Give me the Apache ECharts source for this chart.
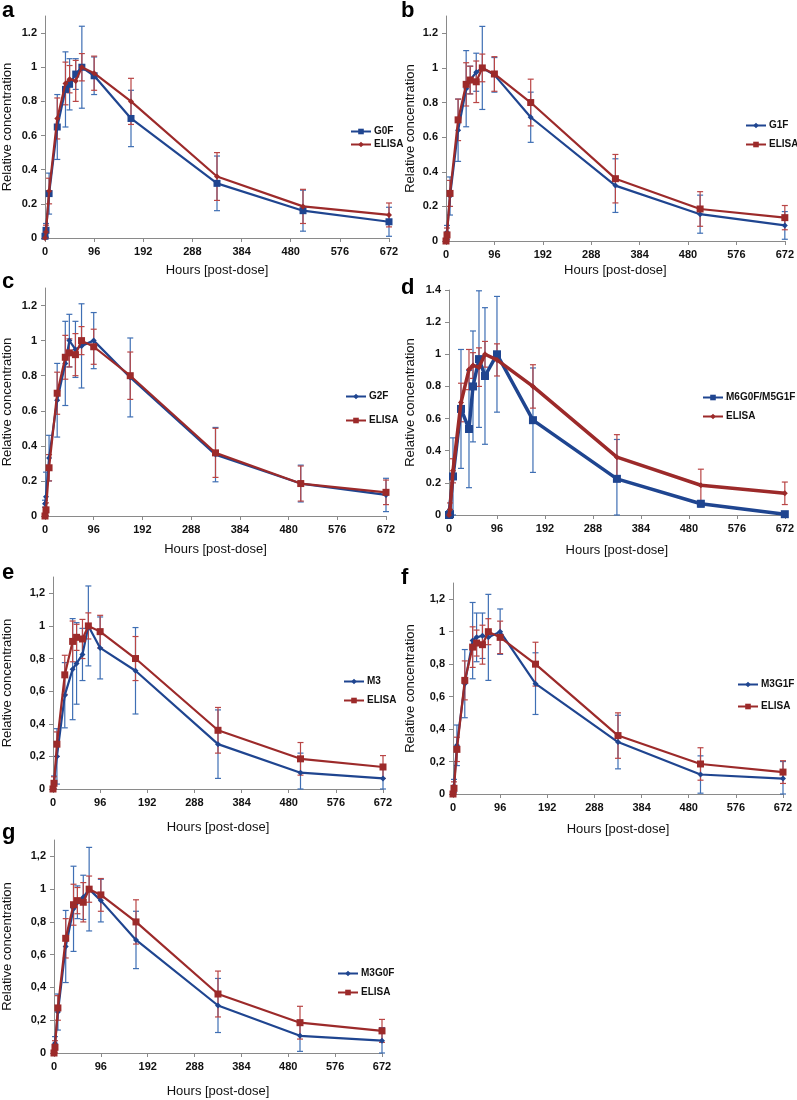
<!DOCTYPE html>
<html>
<head>
<meta charset="utf-8">
<script src="https://cdn.jsdelivr.net/npm/echarts@6/dist/echarts.min.js"></script>
<style>
html,body{margin:0;padding:0;background:#fff;}
#c{width:797px;height:1100px;}
</style>
</head>
<body>
<div id="c"></div>
<script>
// ---- data ----
const hours = [0, 2, 8, 24, 40, 48, 60, 72, 96, 168, 336, 504, 672];
const xTicks = [0, 96, 192, 288, 384, 480, 576, 672];

const elisa    = [0, 0.035, 0.275, 0.70, 0.905, 0.93, 0.92, 1.0, 0.965, 0.80, 0.36, 0.185, 0.135];
const elisaErr = [0.01, 0.04, 0.075, 0.12, 0.125, 0.08, 0.12, 0.08, 0.10, 0.135, 0.14, 0.10, 0.07];

const g0f    = [0.01, 0.045, 0.26, 0.65, 0.87, 0.90, 0.96, 1.0, 0.95, 0.70, 0.32, 0.16, 0.095];
const g0fErr = [0.01, 0.04, 0.12, 0.19, 0.22, 0.15, 0.09, 0.24, 0.11, 0.165, 0.16, 0.12, 0.085];

const g1f    = [0.0, 0.05, 0.26, 0.64, 0.88, 0.93, 0.975, 1.0, 0.96, 0.715, 0.32, 0.155, 0.09];
const g1fErr = [0.01, 0.04, 0.11, 0.18, 0.22, 0.08, 0.11, 0.24, 0.10, 0.145, 0.155, 0.11, 0.08];

const g2f    = [0.07, 0.11, 0.33, 0.66, 0.87, 1.0, 0.95, 0.97, 1.0, 0.79, 0.35, 0.185, 0.12];
const g2fErr = [0.02, 0.14, 0.13, 0.21, 0.24, 0.15, 0.16, 0.24, 0.16, 0.225, 0.155, 0.105, 0.095];

const m6g0f    = [0.0, 0.005, 0.24, 0.66, 0.535, 0.80, 0.97, 0.865, 1.0, 0.59, 0.225, 0.07, 0.005];
const m6g0fErr = [0.005, 0.03, 0.24, 0.37, 0.365, 0.345, 0.425, 0.425, 0.36, 0.325, 0.245, 0.02, 0.01];

const m3    = [0.0, 0.04, 0.20, 0.575, 0.735, 0.77, 0.825, 1.0, 0.865, 0.725, 0.275, 0.10, 0.065];
const m3Err = [0.01, 0.04, 0.17, 0.20, 0.31, 0.25, 0.16, 0.245, 0.19, 0.265, 0.21, 0.12, 0.065];

const m3g1f    = [0.0, 0.05, 0.30, 0.68, 0.945, 0.965, 0.975, 0.965, 1.0, 0.68, 0.32, 0.12, 0.095];
const m3g1fErr = [0.01, 0.04, 0.125, 0.21, 0.235, 0.15, 0.14, 0.265, 0.14, 0.19, 0.165, 0.115, 0.105];

const m3g0f    = [0.0, 0.06, 0.25, 0.65, 0.88, 0.92, 0.95, 1.0, 0.93, 0.69, 0.29, 0.105, 0.075];
const m3g0fErr = [0.01, 0.04, 0.11, 0.22, 0.26, 0.10, 0.135, 0.255, 0.13, 0.175, 0.165, 0.095, 0.08];

const panelLetters = ['a', 'b', 'c', 'd', 'e', 'f', 'g'];
const glycoNames = ['G0F', 'G1F', 'G2F', 'M6G0F/M5G1F', 'M3', 'M3G1F', 'M3G0F'];
const glycoValues = [g0f, g1f, g2f, m6g0f, m3, m3g1f, m3g0f];
const glycoErrors = [g0fErr, g1fErr, g2fErr, m6g0fErr, m3Err, m3g1fErr, m3g0fErr];

// ---- layout / style ----
const BLUE = '#1f4590', RED = '#9c2a2a', BLUE_ERR = '#3f6fb4', RED_ERR = '#b94545';
const layout = [
  {grid:{left:43, top:16, width:346, height:222}, ymax:1.3, comma:false, blueSym:'rect', redSym:'diamond', xGap:26, yGap:31, leg:{left:350, top:125, gap:0}, letter:[2,18], lw:2.2},
  {grid:{left:446, top:16, width:339, height:225}, ymax:1.3, comma:false, blueSym:'diamond', redSym:'rect', xGap:23, yGap:29, leg:{left:745, top:119, gap:6}, letter:[401,18], lw:2.2},
  {grid:{left:43, top:288, width:343, height:228}, ymax:1.3, comma:false, blueSym:'diamond', redSym:'rect', xGap:27, yGap:31, leg:{left:345, top:390, gap:11}, letter:[2,289], lw:2.2},
  {grid:{left:449, top:290, width:339, height:225}, ymax:1.4, comma:false, blueSym:'rect', redSym:'diamond', xGap:29, yGap:32, leg:{left:702, top:391, gap:6}, letter:[401,295], lw:3.5},
  {grid:{left:52, top:577, width:331, height:212}, ymax:1.3, comma:true, blueSym:'diamond', redSym:'rect', xGap:32, yGap:39, leg:{left:343, top:675, gap:6}, letter:[2,580], lw:2.2},
  {grid:{left:453, top:583, width:330, height:211}, ymax:1.3, comma:true, blueSym:'diamond', redSym:'rect', xGap:29, yGap:36, leg:{left:737, top:678, gap:9}, letter:[401,585], lw:2.2},
  {grid:{left:52, top:840, width:330, height:213}, ymax:1.3, comma:true, blueSym:'diamond', redSym:'rect', xGap:32, yGap:40, leg:{left:337, top:967, gap:6}, letter:[2,840], lw:2.2}
];

function errData(vals, errs) {
  return hours.map((h, i) => [h, Math.max(0, vals[i] - errs[i]), vals[i] + errs[i]]);
}
function lineData(vals) { return hours.map((h, i) => [h, vals[i]]); }

function errRender(params, api) {
  const x = api.value(0), lo = api.value(1), hi = api.value(2);
  const a = api.coord([x, lo]), b = api.coord([x, hi]);
  const w = 3;
  const st = {stroke: api.visual('color'), lineWidth: 1.2};
  return {type:'group', children:[
    {type:'line', shape:{x1:a[0], y1:a[1], x2:b[0], y2:b[1]}, style:st},
    {type:'line', shape:{x1:a[0]-w, y1:a[1], x2:a[0]+w, y2:a[1]}, style:st},
    {type:'line', shape:{x1:b[0]-w, y1:b[1], x2:b[0]+w, y2:b[1]}, style:st}
  ]};
}

const FONT = 'Liberation Sans, Arial, sans-serif';
const grids = [], xAxes = [], yAxes = [], series = [], legends = [], graphics = [];

layout.forEach((L, p) => {
  grids.push(L.grid);
  xAxes.push({
    type:'value', gridIndex:p, min:0, max:672, interval:96,
    name:'Hours [post-dose]', nameLocation:'middle', nameGap:L.xGap,
    nameTextStyle:{fontFamily:FONT, fontSize:13, color:'#111'},
    axisLine:{show:true, onZero:false, lineStyle:{color:'#8a8a8a', width:1}},
    axisTick:{show:true, length:4, lineStyle:{color:'#8a8a8a'}},
    axisLabel:{fontFamily:FONT, fontSize:11, fontWeight:'bold', color:'#111', margin:8,
      formatter: v => xTicks.includes(v) ? String(v) : ''},
    splitLine:{show:false}
  });
  yAxes.push({
    type:'value', gridIndex:p, min:0, max:L.ymax, interval:0.2,
    name:'Relative concentration', nameLocation:'middle', nameGap:L.yGap,
    nameTextStyle:{fontFamily:FONT, fontSize:13, color:'#111'},
    axisLine:{show:true, lineStyle:{color:'#8a8a8a', width:1}},
    axisTick:{show:true, length:4, lineStyle:{color:'#8a8a8a'}},
    axisLabel:{fontFamily:FONT, fontSize:11, fontWeight:'bold', color:'#111', margin:8, showMaxLabel: L.ymax === 1.4,
      formatter: v => { const s = String(Math.round(v*10)/10); return L.comma ? s.replace('.', ',') : s; }},
    splitLine:{show:false}
  });
  const bName = glycoNames[p];
  const rName = 'ELISA#' + p;
  series.push({
    type:'custom', xAxisIndex:p, yAxisIndex:p, name:bName + '#err', renderItem:errRender,
    itemStyle:{color:BLUE_ERR}, data:errData(glycoValues[p], glycoErrors[p]), z:1, silent:true
  });
  series.push({
    type:'custom', xAxisIndex:p, yAxisIndex:p, name:rName + '#err', renderItem:errRender,
    itemStyle:{color:RED_ERR}, data:errData(elisa, elisaErr), z:1, silent:true
  });
  series.push({
    type:'line', xAxisIndex:p, yAxisIndex:p, name:bName, data:lineData(glycoValues[p]),
    symbol:L.blueSym, symbolSize: L.blueSym === 'rect' ? (p === 3 ? 8 : 7) : 6,
    lineStyle:{color:BLUE, width:L.lw}, itemStyle:{color:BLUE}, z:3
  });
  series.push({
    type:'line', xAxisIndex:p, yAxisIndex:p, name:rName, data:lineData(elisa),
    symbol:L.redSym, symbolSize: L.redSym === 'rect' ? 7 : 6,
    lineStyle:{color:RED, width:L.lw}, itemStyle:{color:RED}, z:4
  });
  legends.push({
    orient:'vertical', left:L.leg.left, top:L.leg.top, itemGap:L.leg.gap, padding:0,
    itemWidth:20, itemHeight:7, data:[bName, rName],
    formatter: n => n.split('#')[0],
    textStyle:{fontFamily:FONT, fontSize:10, fontWeight:'bold', color:'#111', lineHeight:13, padding:[0,0,0,-2]}
  });
  graphics.push({
    type:'text', left:L.letter[0], top:L.letter[1] - 18,
    style:{text:panelLetters[p], font:'bold 22px ' + FONT, fill:'#000'}
  });
});

const chart = echarts.init(document.getElementById('c'), null, {renderer:'canvas'});
chart.setOption({
  animation:false,
  backgroundColor:'#fff',
  grid:grids, xAxis:xAxes, yAxis:yAxes, series:series, legend:legends,
  graphic:graphics
});
</script>
</body>
</html>
